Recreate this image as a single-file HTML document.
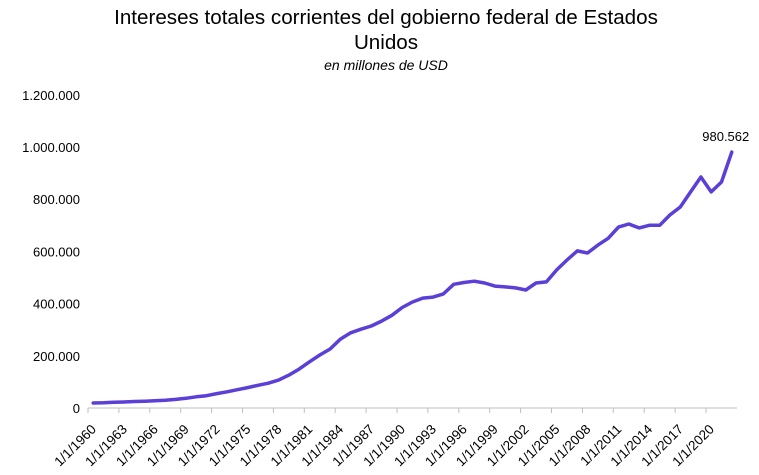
<!DOCTYPE html>
<html><head><meta charset="utf-8"><style>
body{margin:0;background:#fff;font-family:"Liberation Sans",Arial,sans-serif}
svg{display:block}
</style></head><body>
<svg id="chart" width="759" height="475">
<text x="386" y="24" text-anchor="middle" font-size="20.6" fill="#000">Intereses totales corrientes del gobierno federal de Estados</text>
<text x="386" y="49" text-anchor="middle" font-size="20.6" fill="#000">Unidos</text>
<text x="386" y="70" text-anchor="middle" font-size="14" font-style="italic" fill="#000">en millones de USD</text>
<g id="axes"></g>
<g id="series"></g>
</svg>
<script>
const years=[];for(let y=1960;y<=2022;y++)years.push(y);
const values=[19,20,22,23,25,26,28,30,33,37,43,47,55,62,70,78,87,95,107,126,149,177,203,226,264,288,302,314,333,355,385,406,421,425,437,474,481,486,479,467,464,460,452,479,483,529,567,602,594,624,650,693,705,690,700,700,740,770,828,885,828,866,980.562];
const yTicks=[0,200000,400000,600000,800000,1000000,1200000];
const yTickLabels=["0","200.000","400.000","600.000","800.000","1.000.000","1.200.000"];
const NS="http://www.w3.org/2000/svg";
const x0=88,step=10.3,yBase=408,scale=261/1e6;
function xs(i){return x0+step*(i+0.5);}
function ys(v){return yBase-v*scale;}
const axes=document.getElementById('axes'),series=document.getElementById('series');
function mk(t,a,p){const e=document.createElementNS(NS,t);for(const k in a)e.setAttribute(k,a[k]);p.appendChild(e);return e;}
yTicks.forEach((v,i)=>{
 const t=mk('text',{x:80,y:ys(v)+5,'text-anchor':'end','font-size':13,fill:'#000'},axes);
 t.textContent=yTickLabels[i];
 
 
});
const ax=mk('line',{x1:x0,x2:x0+step*years.length,y1:yBase,y2:yBase,stroke:'#bfbfbf','stroke-width':1},axes);


years.forEach((y,i)=>{
 if(i%3!==0)return;
 const tx=x0+step*i;
 const tk=mk('line',{x1:tx,x2:tx,y1:yBase,y2:yBase+5,stroke:'#bfbfbf'},axes);
 
 
 const lx=tx+9,ly=yBase+22;
 const t=mk('text',{x:lx,y:ly,'text-anchor':'end','font-size':13.5,fill:'#000',transform:`rotate(-45 ${lx} ${ly})`},axes);
 t.textContent='1/1/'+y;
 
 
});
const pts=values.map((v,i)=>xs(i).toFixed(1)+','+ys(v*1000).toFixed(1)).join(' ');
const pl=mk('polyline',{points:pts,fill:'none',stroke:'#5b3fd6','stroke-width':3.5,'stroke-linejoin':'round','stroke-linecap':'round'},series);


const li=values.length-1;
const lb=mk('text',{x:xs(li)-6,y:ys(values[li]*1000)-11,'text-anchor':'middle','font-size':13,fill:'#000'},series);
lb.textContent=values[li].toFixed(3);


</script>
</body></html>
